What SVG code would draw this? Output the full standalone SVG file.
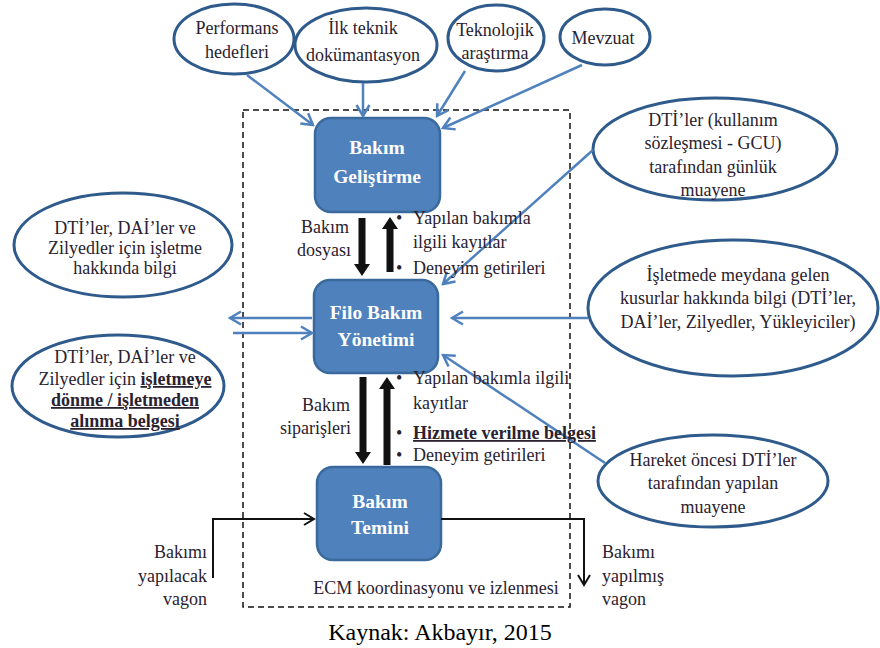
<svg xmlns="http://www.w3.org/2000/svg" width="880" height="648" viewBox="0 0 880 648">
<defs>
<style>
.ell{fill:#fff;stroke:#2f5b8c;stroke-width:3}
.box{fill:#4f81bd;stroke:#3a6a9c;stroke-width:2.5}
.t{font-family:'Liberation Serif','Times New Roman',serif;font-size:18px;fill:#2a2230}
.c{text-anchor:middle}
.e{text-anchor:end}
.bt{font-family:'Liberation Serif','Times New Roman',serif;font-size:19.5px;font-weight:bold;fill:#fff;text-anchor:middle}
.bl{stroke:#4f81bd;stroke-width:2.5;fill:none}
.bk{stroke:#111;stroke-width:2;fill:none}
.u{text-decoration:underline;font-weight:bold}
</style>
<marker id="ab" markerUnits="userSpaceOnUse" markerWidth="16" markerHeight="16" viewBox="0 0 16 16" refX="14" refY="8" orient="auto">
<path d="M3,1.5 L14,8 L3,14.5" fill="none" stroke="#4f81bd" stroke-width="2.5"/>
</marker>
<marker id="ak" markerUnits="userSpaceOnUse" markerWidth="16" markerHeight="16" viewBox="0 0 16 16" refX="14" refY="8" orient="auto">
<path d="M4,2 L14,8 L4,14" fill="none" stroke="#111" stroke-width="2"/>
</marker>
</defs>
<rect width="880" height="648" fill="#fff"/>

<rect x="243" y="110" width="327" height="497" fill="none" stroke="#111" stroke-width="1.5" stroke-dasharray="6,4"/>

<g id="performans">
<ellipse class="ell" cx="234" cy="39" rx="60" ry="35"/>
<text class="t c" x="237" y="34">Performans</text>
<text class="t c" x="237" y="58">hedefleri</text>
</g>
<g id="ilk-teknik">
<ellipse class="ell" cx="366" cy="45" rx="71" ry="37"/>
<text class="t c" x="363" y="34">İlk teknik</text>
<text class="t c" x="363" y="61">dokümantasyon</text>
</g>
<g id="teknolojik">
<ellipse class="ell" cx="496" cy="38" rx="48" ry="33"/>
<text class="t c" x="495" y="36">Teknolojik</text>
<text class="t c" x="495" y="59">araştırma</text>
</g>
<g id="mevzuat">
<ellipse class="ell" cx="605" cy="37" rx="45" ry="28"/>
<text class="t c" x="603" y="44">Mevzuat</text>
</g>

<g id="gunluk-muayene">
<ellipse class="ell" cx="715" cy="149" rx="122" ry="51"/>
<text class="t c" x="713" y="126">DTİ’ler (kullanım</text>
<text class="t c" x="713" y="149">sözleşmesi - GCU)</text>
<text class="t c" x="713" y="173">tarafından günlük</text>
<text class="t c" x="713" y="196">muayene</text>
</g>
<g id="kusurlar">
<ellipse class="ell" cx="733" cy="308" rx="145" ry="68"/>
<text class="t c" x="738" y="281">İşletmede meydana gelen</text>
<text class="t c" x="738" y="304">kusurlar hakkında bilgi (DTİ’ler,</text>
<text class="t c" x="738" y="328">DAİ’ler, Zilyedler, Yükleyiciler)</text>
</g>
<g id="hareket-oncesi">
<ellipse class="ell" cx="713" cy="481" rx="115" ry="46"/>
<text class="t c" x="713" y="466">Hareket öncesi DTİ’ler</text>
<text class="t c" x="713" y="489">tarafından yapılan</text>
<text class="t c" x="713" y="513">muayene</text>
</g>

<g id="isletme-bilgi">
<ellipse class="ell" cx="123" cy="245" rx="109" ry="52"/>
<text class="t c" x="125" y="234">DTİ’ler, DAİ’ler ve</text>
<text class="t c" x="125" y="254">Zilyedler için işletme</text>
<text class="t c" x="125" y="274">hakkında bilgi</text>
</g>
<g id="isletmeye-donme">
<ellipse class="ell" cx="118" cy="386" rx="106" ry="51"/>
<text class="t c" x="125" y="363">DTİ’ler, DAİ’ler ve</text>
<text class="t c" x="125" y="385">Zilyedler için <tspan class="u">işletmeye</tspan></text>
<text class="t c u" x="125" y="406">dönme / işletmeden</text>
<text class="t c u" x="125" y="427">alınma belgesi</text>
</g>

<g id="bakim-gelistirme">
<rect class="box" x="315" y="118" width="125" height="94" rx="16"/>
<text class="bt" x="377" y="154">Bakım</text>
<text class="bt" x="377" y="183">Geliştirme</text>
</g>
<g id="filo-bakim">
<rect class="box" x="314" y="280" width="124" height="93" rx="16"/>
<text class="bt" x="376" y="319">Filo Bakım</text>
<text class="bt" x="376" y="346">Yönetimi</text>
</g>
<g id="bakim-temini">
<rect class="box" x="317" y="467" width="124" height="93" rx="16"/>
<text class="bt" x="380" y="508">Bakım</text>
<text class="bt" x="380" y="534">Temini</text>
</g>

<g id="connectors">
<line class="bl" x1="247" y1="75" x2="313" y2="125" marker-end="url(#ab)"/>
<line class="bl" x1="363" y1="83" x2="363" y2="116" marker-end="url(#ab)"/>
<line class="bl" x1="465" y1="71" x2="437" y2="116" marker-end="url(#ab)"/>
<line class="bl" x1="582" y1="65" x2="443" y2="128" marker-end="url(#ab)"/>
<line class="bl" x1="593" y1="150" x2="443" y2="284" marker-end="url(#ab)"/>
<line class="bl" x1="588" y1="318" x2="452" y2="318" marker-end="url(#ab)"/>
<line class="bl" x1="605" y1="463" x2="443" y2="355" marker-end="url(#ab)"/>
<line class="bl" x1="312" y1="318" x2="230" y2="318" marker-end="url(#ab)"/>
<line class="bl" x1="233" y1="333" x2="312" y2="333" marker-end="url(#ab)"/>

<polygon points="358.5,218 365.5,218 365.5,264 370,264 362,276 354,264 358.5,264" fill="#111"/>
<polygon points="386.5,272 393.5,272 393.5,229 398,229 390,217 382,229 386.5,229" fill="#111"/>
<polygon points="359.5,377 366.5,377 366.5,452 371,452 363,464 355,452 359.5,452" fill="#111"/>
<polygon points="383.5,465 390.5,465 390.5,389 395,389 387,377 379,389 383.5,389" fill="#111"/>

<polyline class="bk" points="213,578 213,519 314,519" marker-end="url(#ak)"/>
<polyline class="bk" points="441,519 584,519 584,585" marker-end="url(#ak)"/>
</g>

<g id="labels">
<text class="t e" x="349" y="233">Bakım</text>
<text class="t e" x="351" y="256">dosyası</text>
<text class="t" x="396" y="224">•</text>
<text class="t" x="413" y="224">Yapılan bakımla</text>
<text class="t" x="413" y="248">ilgili kayıtlar</text>
<text class="t" x="396" y="274">•</text>
<text class="t" x="413" y="274">Deneyim getirileri</text>

<text class="t e" x="350" y="411">Bakım</text>
<text class="t e" x="351" y="434">siparişleri</text>
<text class="t" x="396" y="384">•</text>
<text class="t" x="413" y="384">Yapılan bakımla ilgili</text>
<text class="t" x="413" y="409">kayıtlar</text>
<text class="t" x="396" y="439">•</text>
<text class="t u" x="413" y="439">Hizmete verilme belgesi</text>
<text class="t" x="396" y="461">•</text>
<text class="t" x="413" y="461">Deneyim getirileri</text>

<text class="t e" x="207" y="558">Bakımı</text>
<text class="t e" x="207" y="582">yapılacak</text>
<text class="t e" x="207" y="605">vagon</text>
<text class="t" x="602" y="558">Bakımı</text>
<text class="t" x="602" y="582">yapılmış</text>
<text class="t" x="602" y="605">vagon</text>

<text class="t c" x="436" y="594">ECM koordinasyonu ve izlenmesi</text>
<text x="440" y="640" text-anchor="middle" font-family="'Liberation Serif','Times New Roman',serif" font-size="24" fill="#000">Kaynak: Akbayır, 2015</text>
</g>
</svg>
